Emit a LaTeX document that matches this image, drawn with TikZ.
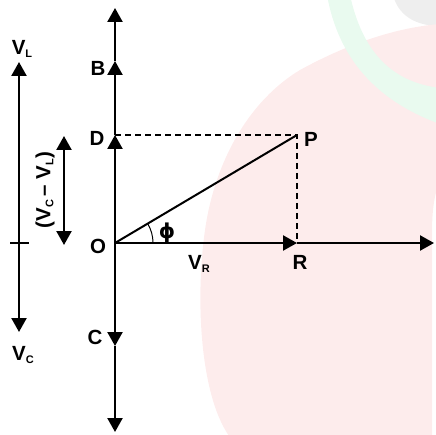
\documentclass[tikz,border=0pt]{standalone}
\usepackage{fontspec}
\setmainfont{Liberation Sans}
\newfontfamily\symfont{DejaVu Sans}
\usetikzlibrary{arrows.meta,angles}

\definecolor{pinkwm}{HTML}{FDECEC}
\definecolor{greenwm}{HTML}{E9FAEF}
\definecolor{graywm}{HTML}{EEEEEE}

\newcommand{\vsub}[1]{\raisebox{-3pt}{\fontsize{11}{11}\selectfont #1}}

\begin{document}
\begin{tikzpicture}[x=1pt, y=-1pt,
  every node/.style={font=\fontsize{20.5}{22}\selectfont\bfseries, inner sep=0pt},
  vec/.style={line width=2.3pt, -{Triangle[length=14pt,width=15pt]}},
  dvec/.style={line width=2.3pt, {Triangle[length=14pt,width=15pt]}-{Triangle[length=14pt,width=15pt]}},
  guide/.style={line width=2.2pt, dash pattern=on 6pt off 4pt}]
  \useasboundingbox (0,0) rectangle (435,435);

  % Fondo (marca de agua)
  \fill[graywm] (393,-5) .. controls (398,15) and (415,26) .. (440,26) -- (440,-5) -- cycle;
  \fill[pinkwm] (232,440) .. controls (200,400) and (195,300) .. (205,230)
    .. controls (215,160) and (250,100) .. (300,70)
    .. controls (340,48) and (390,28) .. (440,24) -- (440,180)
    .. controls (432,200) and (432,220) .. (432,240) -- (432,440) -- cycle;
  \fill[greenwm] (327,-5) .. controls (335,40) and (360,95) .. (440,124) -- (440,88)
    .. controls (390,82) and (362,50) .. (350,-5) -- cycle;

  % Puntos
  \coordinate (O) at (115,243);
  \coordinate (D) at (115,135);
  \coordinate (B) at (115,61);
  \coordinate (top) at (115,8);
  \coordinate (C) at (115,346);
  \coordinate (bottom) at (115,432);
  \coordinate (R) at (297,243);
  \coordinate (xend) at (434,243);
  \coordinate (P) at (297,135);

  % Ejes
  \draw[vec] (O) -- (D);
  \draw[vec] (D) -- (B);
  \draw[vec] (B) -- (top);
  \draw[vec] (O) -- (C);
  \draw[vec] (C) -- (bottom);
  \draw[vec] (O) -- (R);
  \draw[vec] (R) -- (xend);

  % Resultante
  \draw[guide] (D) -- (P) -- (R);
  \draw[line width=2pt] (O) -- (P);
  \pic[draw, line width=1pt, angle radius=38pt] {angle=R--O--P};

  % V_L y V_C
  \coordinate (VLtip) at (19,62);
  \coordinate (VCtip) at (19,332);
  \coordinate (tickL) at (10,243);
  \coordinate (tickR) at (29,243);
  \draw[dvec] (VCtip) -- (VLtip);
  \draw[line width=1.6pt] (tickL) -- (tickR);

  % V_C - V_L
  \coordinate (diffTop) at (64,136);
  \coordinate (diffBot) at (64,245);
  \draw[dvec] (diffBot) -- (diffTop);

  % Etiquetas
  \node (labVL) at (22,49) {V\vsub{L}};
  \node (labVC) at (23,355) {V\vsub{C}};
  \node[rotate=90] (labDiff) at (45,190) {(V\vsub{C}\,– V\vsub{L})};
  \node (labB) at (98,68) {B};
  \node (labD) at (97,138) {D};
  \node (labO) at (98,246) {O};
  \node (labC) at (95,337) {C};
  \node (labP) at (311,139) {P};
  \node (labR) at (300,262) {R};
  \node (labVR) at (199,264) {V\vsub{R}};
  \node (labphi) at (167,233) {\symfont ϕ};
\end{tikzpicture}
\end{document}
